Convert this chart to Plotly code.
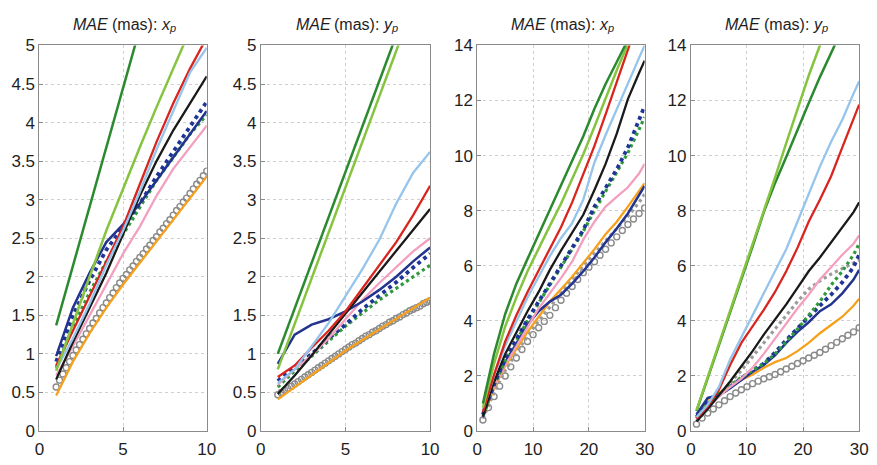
import plotly.graph_objects as go

# ---------------------------------------------------------------- horizons
X_SHORT = list(range(1, 11))                       # days 1..10, solid/dotted lines
X_SHORT_FINE = [round(1 + 0.2 * i, 1) for i in range(46)]   # days 1..10, marker series
X_LONG = [1, 3, 5, 7, 9, 11, 13, 15, 17, 19, 21, 23, 25, 27, 29, 30]
X_LONG_FINE = list(range(1, 31))

# ---------------------------------------------------------------- panel 1: x_p, 1-10 d
P1_DARK_GREEN = [1.37, 2.14, 2.91, 3.68, 4.45, 5.22, 5.99, 6.76, 7.53, 8.30]
P1_LIGHT_GREEN = [0.78, 1.40, 2.00, 2.60, 3.15, 3.68, 4.20, 4.72, 5.22, 5.70]
P1_RED = [0.85, 1.30, 1.75, 2.20, 2.65, 3.20, 3.75, 4.25, 4.70, 5.10]
P1_LIGHT_BLUE = [0.80, 1.20, 1.65, 2.15, 2.60, 3.10, 3.65, 4.15, 4.65, 4.97]
P1_BLACK = [0.67, 1.15, 1.60, 2.05, 2.55, 3.05, 3.50, 3.90, 4.25, 4.60]
P1_NAVY = [0.97, 1.60, 2.05, 2.45, 2.68, 2.95, 3.25, 3.55, 3.85, 4.15]
P1_NAVY_DOT = [0.90, 1.50, 1.95, 2.35, 2.65, 2.95, 3.30, 3.62, 3.95, 4.27]
P1_GREEN_DOT = [0.82, 1.35, 1.80, 2.20, 2.55, 2.90, 3.25, 3.55, 3.85, 4.10]
P1_PINK = [0.72, 1.10, 1.50, 1.90, 2.30, 2.65, 3.05, 3.40, 3.68, 3.96]
P1_ORANGE = [0.46, 0.90, 1.27, 1.60, 1.90, 2.18, 2.46, 2.74, 3.02, 3.30]
P1_GRAY_CIRCLES = [0.57, 0.66, 0.74, 0.82, 0.90, 0.98, 1.05, 1.12, 1.19, 1.26,
                   1.33, 1.40, 1.46, 1.53, 1.60, 1.66, 1.73, 1.79, 1.86, 1.92,
                   1.98, 2.03, 2.09, 2.14, 2.20, 2.25, 2.30, 2.36, 2.41, 2.47,
                   2.52, 2.58, 2.63, 2.69, 2.74, 2.80, 2.86, 2.91, 2.97, 3.02,
                   3.08, 3.14, 3.20, 3.25, 3.31, 3.37]

# ---------------------------------------------------------------- panel 2: y_p, 1-10 d
P2_DARK_GREEN = [1.00, 1.59, 2.18, 2.77, 3.36, 3.95, 4.54, 5.13, 5.72, 6.31]
P2_LIGHT_GREEN = [0.80, 1.39, 1.98, 2.57, 3.16, 3.75, 4.34, 4.93, 5.52, 6.11]
P2_RED = [0.70, 0.85, 1.08, 1.30, 1.55, 1.85, 2.15, 2.45, 2.80, 3.18]
P2_LIGHT_BLUE = [0.62, 0.80, 1.10, 1.40, 1.75, 2.10, 2.48, 2.95, 3.35, 3.62]
P2_BLACK = [0.48, 0.72, 0.98, 1.25, 1.52, 1.80, 2.07, 2.34, 2.61, 2.88]
P2_NAVY = [0.87, 1.25, 1.38, 1.45, 1.55, 1.68, 1.83, 2.00, 2.20, 2.38]
P2_NAVY_DOT = [0.65, 0.82, 1.00, 1.20, 1.38, 1.58, 1.75, 1.93, 2.12, 2.30]
P2_GREEN_DOT = [0.57, 0.78, 0.97, 1.17, 1.36, 1.53, 1.70, 1.85, 2.00, 2.15]
P2_PINK = [0.60, 0.80, 0.98, 1.20, 1.45, 1.70, 1.92, 2.13, 2.33, 2.50]
P2_ORANGE = [0.41, 0.57, 0.72, 0.88, 1.04, 1.18, 1.32, 1.46, 1.60, 1.73]
P2_GRAY_CIRCLES = [0.47, 0.50, 0.53, 0.55, 0.58, 0.61, 0.64, 0.67, 0.70, 0.73,
                   0.76, 0.79, 0.82, 0.85, 0.88, 0.91, 0.94, 0.97, 1.00, 1.03,
                   1.06, 1.09, 1.12, 1.14, 1.17, 1.20, 1.23, 1.25, 1.28, 1.30,
                   1.33, 1.36, 1.38, 1.41, 1.43, 1.46, 1.48, 1.51, 1.53, 1.56,
                   1.58, 1.60, 1.62, 1.65, 1.67, 1.69]

# ---------------------------------------------------------------- panel 3: x_p, 1-30 d
P3_DARK_GREEN = [1.00, 2.80, 4.25, 5.35, 6.25, 7.15, 8.00, 8.90, 9.80, 10.70,
                 11.70, 12.60, 13.40, 14.20, 14.90, 15.20]
P3_LIGHT_GREEN = [0.85, 2.45, 3.80, 4.85, 5.80, 6.65, 7.45, 8.25, 9.15, 10.05,
                  11.05, 12.10, 13.10, 14.05, 14.80, 15.10]
P3_RED = [0.70, 2.05, 3.25, 4.20, 5.05, 5.85, 6.60, 7.40, 8.30, 9.30,
          10.35, 11.50, 12.70, 13.90, 15.00, 15.60]
P3_LIGHT_BLUE = [0.75, 2.00, 3.10, 4.00, 4.85, 5.60, 6.35, 7.00, 7.55, 8.40,
                 9.75, 10.75, 11.70, 12.65, 13.55, 14.00]
P3_BLACK = [0.55, 1.80, 2.80, 3.60, 4.35, 5.05, 5.85, 6.55, 7.20, 7.85,
            8.75, 9.70, 10.80, 12.05, 13.00, 13.45]
P3_NAVY = [0.50, 1.70, 2.50, 3.20, 3.85, 4.35, 4.70, 4.95, 5.35, 5.80,
           6.30, 6.85, 7.35, 7.90, 8.60, 8.90]
P3_NAVY_DOT = [0.60, 1.70, 2.60, 3.35, 4.05, 4.70, 5.35, 6.00, 6.65, 7.30,
               8.15, 8.85, 9.50, 10.30, 11.30, 11.80]
P3_GREEN_DOT = [0.55, 1.65, 2.55, 3.30, 4.00, 4.65, 5.30, 5.95, 6.60, 7.25,
                8.00, 8.70, 9.35, 10.10, 10.95, 11.40]
P3_PINK = [0.60, 1.60, 2.40, 3.10, 3.80, 4.45, 5.00, 5.55, 6.15, 6.95,
           7.60, 8.15, 8.50, 8.85, 9.35, 9.70]
P3_ORANGE = [0.50, 1.55, 2.35, 3.00, 3.60, 4.15, 4.70, 5.15, 5.60, 6.10,
             6.60, 7.15, 7.60, 8.15, 8.70, 9.00]
P3_GRAY_DOT = [0.45, 1.40, 2.20, 2.85, 3.45, 4.00, 4.50, 5.00, 5.50, 6.00,
               6.45, 6.90, 7.35, 7.80, 8.30, 8.60]
P3_GRAY_CIRCLES = [0.40, 0.85, 1.25, 1.63, 2.00, 2.33, 2.65, 2.96, 3.25, 3.50,
                   3.75, 3.98, 4.20, 4.48, 4.75, 5.00, 5.25, 5.50, 5.75, 5.95,
                   6.15, 6.38, 6.60, 6.83, 7.05, 7.28, 7.50, 7.70, 7.90, 8.10]

# ---------------------------------------------------------------- panel 4: y_p, 1-30 d
P4_DARK_GREEN = [0.72, 1.92, 3.10, 4.30, 5.45, 6.70, 7.95, 9.00, 9.95, 10.95,
                 11.90, 12.85, 13.75, 14.60, 15.40, 15.80]
P4_LIGHT_GREEN = [0.75, 1.95, 3.15, 4.35, 5.55, 6.75, 7.95, 9.20, 10.45, 11.70,
                  12.90, 14.00, 15.10, 16.20, 17.30, 17.80]
P4_RED = [0.45, 0.90, 1.50, 2.40, 3.20, 3.80, 4.40, 5.05, 5.80, 6.65,
          7.60, 8.40, 9.25, 10.30, 11.30, 11.85]
P4_LIGHT_BLUE = [0.50, 0.95, 1.60, 2.60, 3.40, 4.20, 4.95, 5.75, 6.60, 7.60,
                 8.60, 9.60, 10.50, 11.30, 12.25, 12.70]
P4_BLACK = [0.35, 0.80, 1.30, 1.80, 2.35, 2.90, 3.50, 4.05, 4.60, 5.20,
            5.80, 6.30, 6.85, 7.40, 7.95, 8.30]
P4_NAVY = [0.60, 1.20, 1.30, 1.55, 1.85, 2.15, 2.40, 2.75, 3.20, 3.60,
           3.95, 4.35, 4.60, 5.00, 5.50, 5.85]
P4_NAVY_DOT = [0.50, 1.05, 1.30, 1.60, 1.90, 2.20, 2.45, 2.85, 3.30, 3.75,
               4.15, 4.55, 4.95, 5.40, 5.95, 6.40]
P4_GREEN_DOT = [0.45, 1.00, 1.35, 1.65, 1.95, 2.20, 2.45, 2.80, 3.25, 3.70,
                4.20, 4.70, 5.30, 5.80, 6.40, 6.80]
P4_PINK = [0.40, 0.85, 1.25, 1.60, 1.90, 2.30, 2.80, 3.35, 3.90, 4.45,
           4.95, 5.50, 5.95, 6.40, 6.80, 7.10]
P4_ORANGE = [0.50, 1.15, 1.40, 1.60, 1.85, 2.05, 2.30, 2.50, 2.65, 2.90,
             3.20, 3.55, 3.85, 4.15, 4.55, 4.80]
P4_GRAY_DOT = [0.35, 0.80, 1.30, 1.75, 2.20, 2.70, 3.20, 3.70, 4.20, 4.70,
               5.15, 5.45, 5.70, 5.90, 6.10, 6.20]
P4_GRAY_CIRCLES = [0.25, 0.47, 0.65, 0.80, 0.95, 1.10, 1.25, 1.38, 1.50, 1.61,
                   1.72, 1.81, 1.90, 1.97, 2.05, 2.15, 2.25, 2.35, 2.45, 2.55,
                   2.65, 2.75, 2.85, 2.97, 3.10, 3.22, 3.35, 3.48, 3.60, 3.75]

# panel headings: (italic quantity, unit, italic component, subscript)
PANEL_TITLES = [("MAE", "(mas):", "x", "p"),
                ("MAE", "(mas):", "y", "p"),
                ("MAE", "(mas):", "x", "p"),
                ("MAE", "(mas):", "y", "p")]

# ---------------------------------------------------------------- styles
STYLE = {
    "gray_circles": dict(color="#8a8a8a"),
    "gray_dot": dict(color="#9b9b9b", width=3.2, dash="dot"),
    "orange": dict(color="#f6a01c", width=2.3),
    "navy": dict(color="#23348f", width=2.5),
    "green_dot": dict(color="#2f9a3a", width=3.2, dash="dot"),
    "navy_dot": dict(color="#1f3597", width=3.8, dash="dot"),
    "pink": dict(color="#f3a0c0", width=2.3),
    "black": dict(color="#1a1a1a", width=2.3),
    "light_blue": dict(color="#95c4ec", width=2.3),
    "red": dict(color="#d8261f", width=2.3),
    "light_green": dict(color="#86c440", width=2.5),
    "dark_green": dict(color="#2b8a2f", width=2.5),
}

panels = [
    dict(x=X_SHORT, xf=X_SHORT_FINE, series=[
        ("gray_circles", P1_GRAY_CIRCLES), ("orange", P1_ORANGE), ("pink", P1_PINK),
        ("green_dot", P1_GREEN_DOT), ("navy_dot", P1_NAVY_DOT), ("navy", P1_NAVY),
        ("black", P1_BLACK), ("red", P1_RED), ("light_blue", P1_LIGHT_BLUE),
        ("light_green", P1_LIGHT_GREEN), ("dark_green", P1_DARK_GREEN)]),
    dict(x=X_SHORT, xf=X_SHORT_FINE, series=[
        ("gray_circles", P2_GRAY_CIRCLES), ("orange", P2_ORANGE), ("green_dot", P2_GREEN_DOT),
        ("navy_dot", P2_NAVY_DOT), ("pink", P2_PINK), ("navy", P2_NAVY),
        ("black", P2_BLACK), ("red", P2_RED), ("light_blue", P2_LIGHT_BLUE),
        ("light_green", P2_LIGHT_GREEN), ("dark_green", P2_DARK_GREEN)]),
    dict(x=X_LONG, xf=X_LONG_FINE, series=[
        ("gray_circles", P3_GRAY_CIRCLES), ("gray_dot", P3_GRAY_DOT), ("orange", P3_ORANGE),
        ("navy", P3_NAVY), ("pink", P3_PINK), ("green_dot", P3_GREEN_DOT),
        ("navy_dot", P3_NAVY_DOT), ("black", P3_BLACK), ("light_blue", P3_LIGHT_BLUE),
        ("red", P3_RED), ("light_green", P3_LIGHT_GREEN), ("dark_green", P3_DARK_GREEN)]),
    dict(x=X_LONG, xf=X_LONG_FINE, series=[
        ("gray_circles", P4_GRAY_CIRCLES), ("orange", P4_ORANGE), ("gray_dot", P4_GRAY_DOT),
        ("navy", P4_NAVY), ("navy_dot", P4_NAVY_DOT), ("green_dot", P4_GREEN_DOT),
        ("pink", P4_PINK), ("black", P4_BLACK), ("red", P4_RED),
        ("light_blue", P4_LIGHT_BLUE), ("dark_green", P4_DARK_GREEN),
        ("light_green", P4_LIGHT_GREEN)]),
]

W, H = 877, 465
X_DOMAINS = [(35, 205), (260, 432), (480, 650), (697, 868)]   # pixel extents
Y_TOP, Y_BOTTOM = 38, 440
Y_DOMAIN = [1 - Y_BOTTOM / H, 1 - Y_TOP / H]
X_RANGES = [(0, 10, 5), (0, 10, 5), (0, 30, 10), (0, 30, 10)]
Y_RANGES = [(0, 5, 0.5), (0, 5, 0.5), (0, 14, 2), (0, 14, 2)]

FONT = "Liberation Sans, Arial, sans-serif"
TITLE_SIZE = 16
SUB_SIZE = 11
# Liberation Sans advance widths (em) used to lay the heading pieces side by side
ADV = {"M": 0.833, "A": 0.667, "E": 0.667, "(": 0.333, ")": 0.333, "m": 0.833,
       "a": 0.556, "s": 0.5, ":": 0.278, "x": 0.5, "y": 0.5, "p": 0.556, " ": 0.278}


def text_width(s, size):
    return sum(ADV.get(c, 0.556) for c in s) * size


fig = go.Figure()
for i, panel in enumerate(panels):
    ax = "" if i == 0 else str(i + 1)
    for key, values in panel["series"]:
        if key == "gray_circles":
            fig.add_trace(go.Scatter(
                x=panel["xf"], y=values, mode="markers", xaxis="x" + ax, yaxis="y" + ax,
                marker=dict(symbol="circle-open", size=6, color=STYLE[key]["color"],
                            line=dict(width=1.4, color=STYLE[key]["color"])),
                showlegend=False, hoverinfo="skip"))
        else:
            fig.add_trace(go.Scatter(
                x=panel["x"], y=values, mode="lines", xaxis="x" + ax, yaxis="y" + ax,
                line=STYLE[key], showlegend=False, hoverinfo="skip"))

axis_common = dict(
    showline=True, mirror=True, linecolor="#8a8a8a", linewidth=1,
    showgrid=True, gridcolor="#cfcfcf", griddash="dot", gridwidth=1,
    ticks="inside", ticklen=4, tickcolor="#8a8a8a", zeroline=False,
    tickfont=dict(family=FONT, size=17, color="#1e1e1e"),
)

layout = dict(width=W, height=H, margin=dict(l=0, r=0, t=0, b=0),
              paper_bgcolor="white", plot_bgcolor="white", showlegend=False)
annotations = []
for i in range(4):
    ax = "" if i == 0 else str(i + 1)
    x0, x1 = X_DOMAINS[i]
    xmin, xmax, xd = X_RANGES[i]
    ymin, ymax, yd = Y_RANGES[i]
    layout["xaxis" + ax] = dict(domain=[x0 / W, x1 / W], range=[xmin, xmax], dtick=xd,
                                tick0=0, anchor="y" + ax, ticklabelstandoff=3,
                                **axis_common)
    layout["yaxis" + ax] = dict(domain=Y_DOMAIN, range=[ymin, ymax], dtick=yd,
                                tick0=0, anchor="x" + ax, **axis_common)

    # heading, centred over the panel, built from separately styled pieces
    qty, unit, comp, sub = PANEL_TITLES[i]
    space = text_width(" ", TITLE_SIZE)
    pieces = [
        (qty, TITLE_SIZE, "italic", 0, 0),
        (unit, TITLE_SIZE, "normal", space, 0),
        (comp, TITLE_SIZE, "italic", space, 0),
        (sub, SUB_SIZE, "italic", 0, 4),
    ]
    total = sum(text_width(t, s) + gap for t, s, _, gap, _ in pieces)
    cursor = (x0 + x1) / 2 - total / 2
    for t, s, style, gap, drop in pieces:
        cursor += gap
        annotations.append(dict(
            text=t, xref="paper", yref="paper", x=cursor / W, y=1 - (16 + drop) / H,
            xanchor="left", yanchor="middle", showarrow=False, borderpad=0,
            font=dict(family=FONT, size=s, style=style, color="#1e1e1e")))
        cursor += text_width(t, s)
layout["annotations"] = annotations

fig.update_layout(**layout)
fig.write_html("out.html")
